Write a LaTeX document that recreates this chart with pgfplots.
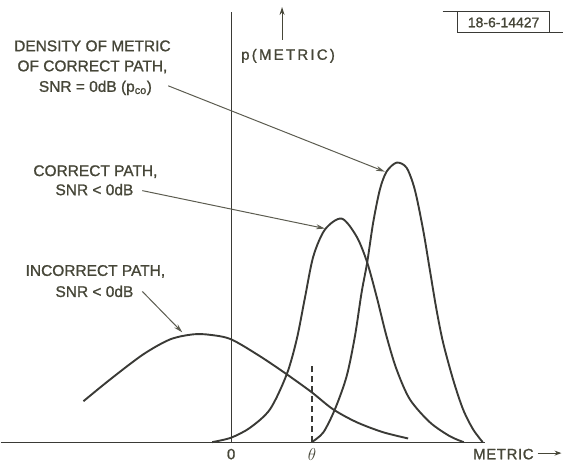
\documentclass[border=0pt]{standalone}
\usepackage{pgfplots}
\pgfplotsset{compat=1.18}
\usetikzlibrary{arrows.meta}
\usepackage{fontspec}
\setmainfont{Liberation Sans}[FakeBold=1.2]

\definecolor{ink}{RGB}{58,58,54}
\definecolor{letter}{RGB}{70,70,56}
\definecolor{leader}{RGB}{92,92,80}

\begin{document}
\begin{tikzpicture}
\begin{axis}[
  x=1pt, y=1pt,
  xmin=-231, xmax=332, ymin=-21, ymax=443,
  hide axis, clip=false,
]
% fixed frame of the figure
\path (axis cs:-231,-21) rectangle (axis cs:332,443);

% density of the incorrect path metric
\addplot[ink, line width=1.9pt, no markers, smooth, tension=0.5] coordinates {
  (-148,41) (-121,63) (-88,88) (-61,103) (-38,108) (-21,107.5)
  (0,103) (29,86) (55.7,68) (80.7,50) (102,33) (125.7,20) (152,10) (177.3,3.7)};

% density of the correct path metric, SNR < 0 dB
\addplot[ink, line width=1.9pt, no markers, smooth, tension=0.5] coordinates {
  (-19,0) (0,4.5) (19,14.5) (39,33) (55.7,68) (65.7,103) (74,145)
  (82.3,186) (94,213) (110.7,224) (125.7,206) (136.3,180) (145.7,146)
  (155.7,106) (165.7,73) (179,43) (199,20) (219,6) (233,0)};

% density of the correct path metric, SNR = 0 dB
\addplot[ink, line width=1.9pt, no markers, smooth, tension=0.5] coordinates {
  (80.7,0) (92.3,9.7) (104,33) (115.7,66) (124,106) (130.7,150) (136.3,180)
  (142.3,220) (149,253) (155.7,271) (165.7,280) (175.7,275) (184,253)
  (192.3,213) (199,173) (205.7,133) (212.3,100) (222.3,63) (232.3,33)
  (242.3,13) (252,0)};

% axes
\draw[ink, line width=1.2pt] (axis cs:-231,0) -- (axis cs:254,0);
\draw[ink, line width=1.2pt] (axis cs:0,0) -- (axis cs:0,431);
\draw[ink, line width=1.1pt, dash pattern=on 6pt off 4pt] (axis cs:81,0) -- (axis cs:81,77);

% axis labels
\node[letter, font=\fontsize{15}{18}\selectfont] at (axis cs:0,-12) {0};
\node[letter, font=\fontsize{16}{18}\selectfont] at (axis cs:81,-12) {$\theta$};
\node[letter, font=\fontsize{15}{18}\selectfont\addfontfeatures{LetterSpace=4}, anchor=west] at (axis cs:239,-12) {METRIC};
\draw[letter, line width=1.1pt, -{Stealth[length=7pt,width=5pt]}] (axis cs:307,-11) -- (axis cs:331,-11);
\node[letter, font=\fontsize{15}{18}\selectfont\addfontfeatures{LetterSpace=15}] at (axis cs:57,387) {p(METRIC)};
\draw[letter, line width=1.1pt, -{Stealth[length=8pt,width=5pt]}] (axis cs:51,403) -- (axis cs:51,436);

% annotations
\begin{scope}[letter, font=\fontsize{15.5}{18}\selectfont]
\node at (axis cs:-139,397) {DENSITY OF METRIC};
\node at (axis cs:-139,376) {OF CORRECT PATH,};
\node at (axis cs:-136,355) {SNR = 0dB (p\textsubscript{co})};
\node at (axis cs:-136,271) {CORRECT PATH,};
\node at (axis cs:-137,253) {SNR < 0dB};
\node at (axis cs:-136,171) {INCORRECT PATH,};
\node at (axis cs:-137,151) {SNR < 0dB};
\end{scope}
\begin{scope}[leader, line width=1pt, -{Stealth[length=9pt,width=5pt]}]
\draw (axis cs:-63,357) -- (axis cs:154,271);
\draw (axis cs:-89,252) -- (axis cs:94,214);
\draw (axis cs:-89,151) -- (axis cs:-49,110);
\end{scope}

% drawing number
\draw[ink, line width=1pt] (axis cs:212,431) -- (axis cs:319,431) -- (axis cs:319,410) -- (axis cs:227,410) -- (axis cs:227,431);
\draw[ink, line width=1pt] (axis cs:319,410) -- (axis cs:332,410);
\node[letter, font=\fontsize{14}{16}\selectfont] at (axis cs:273,420.5) {18-6-14427};
\end{axis}
\end{tikzpicture}
\end{document}
